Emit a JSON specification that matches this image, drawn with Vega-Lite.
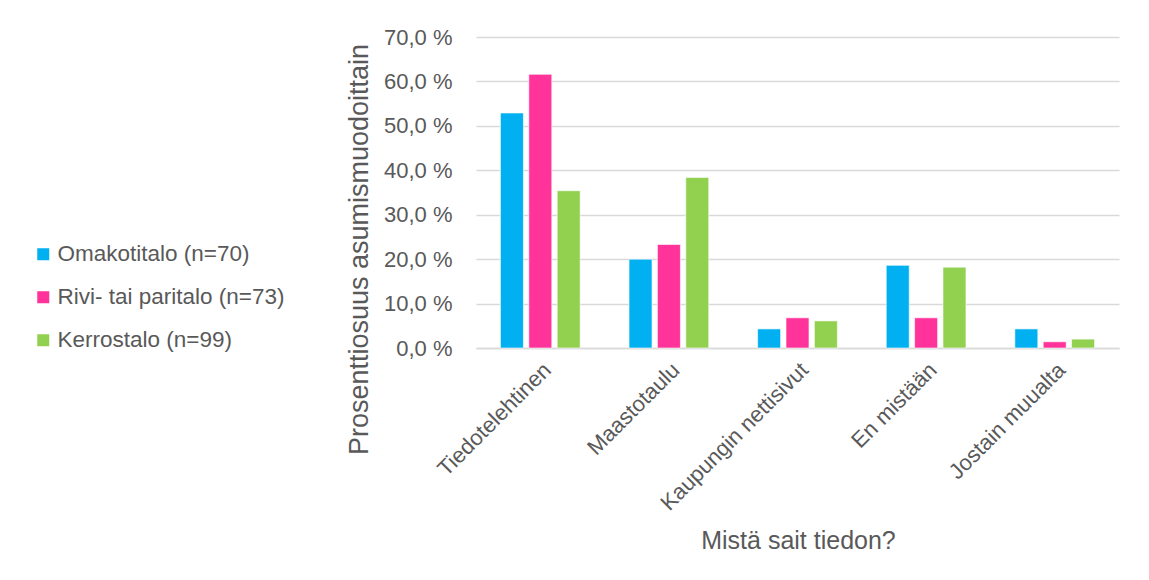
{
  "$schema": "https://vega.github.io/schema/vega-lite/v6.json",
  "width": 643,
  "height": 311,
  "autosize": {"type": "none"},
  "padding": {"left": 476, "top": 37, "right": 30, "bottom": 232},
  "background": "#ffffff",
  "config": {
    "font": "Liberation Sans",
    "view": {"stroke": null},
    "axis": {"labelColor": "#595959", "titleColor": "#595959", "titleFontWeight": "normal", "labelFont": "Liberation Sans", "titleFont": "Liberation Sans"},
    "legend": {"labelColor": "#595959", "labelFont": "Liberation Sans"}
  },
  "data": {
    "values": [
      {"source": "Tiedotelehtinen", "group": "Omakotitalo (n=70)", "pct": 52.9},
      {"source": "Tiedotelehtinen", "group": "Rivi- tai paritalo (n=73)", "pct": 61.6},
      {"source": "Tiedotelehtinen", "group": "Kerrostalo (n=99)", "pct": 35.4},
      {"source": "Maastotaulu", "group": "Omakotitalo (n=70)", "pct": 20.0},
      {"source": "Maastotaulu", "group": "Rivi- tai paritalo (n=73)", "pct": 23.3},
      {"source": "Maastotaulu", "group": "Kerrostalo (n=99)", "pct": 38.4},
      {"source": "Kaupungin nettisivut", "group": "Omakotitalo (n=70)", "pct": 4.3},
      {"source": "Kaupungin nettisivut", "group": "Rivi- tai paritalo (n=73)", "pct": 6.8},
      {"source": "Kaupungin nettisivut", "group": "Kerrostalo (n=99)", "pct": 6.1},
      {"source": "En mistään", "group": "Omakotitalo (n=70)", "pct": 18.6},
      {"source": "En mistään", "group": "Rivi- tai paritalo (n=73)", "pct": 6.8},
      {"source": "En mistään", "group": "Kerrostalo (n=99)", "pct": 18.2},
      {"source": "Jostain muualta", "group": "Omakotitalo (n=70)", "pct": 4.3},
      {"source": "Jostain muualta", "group": "Rivi- tai paritalo (n=73)", "pct": 1.4},
      {"source": "Jostain muualta", "group": "Kerrostalo (n=99)", "pct": 2.0}
    ]
  },
  "mark": {"type": "bar", "stroke": "#ffffff", "strokeOpacity": 0.6, "strokeWidth": 1},
  "encoding": {
    "x": {
      "field": "source",
      "type": "nominal",
      "sort": ["Tiedotelehtinen", "Maastotaulu", "Kaupungin nettisivut", "En mistään", "Jostain muualta"],
      "scale": {"paddingInner": 0.38, "paddingOuter": 0.19},
      "axis": {
        "title": "Mistä sait tiedon?",
        "titleFontSize": 25,
        "titleX": 322,
        "titleY": 200,
        "titleBaseline": "alphabetic",
        "labelAngle": -45,
        "labelAlign": "right",
        "labelBaseline": "top",
        "labelFontSize": 22,
        "labelPadding": 11,
        "labelLimit": 0,
        "ticks": false,
        "domain": true,
        "domainColor": "#d9d9d9",
        "domainWidth": 1.5,
        "grid": false
      }
    },
    "xOffset": {
      "field": "group",
      "type": "nominal",
      "sort": ["Omakotitalo (n=70)", "Rivi- tai paritalo (n=73)", "Kerrostalo (n=99)"],
      "scale": {"paddingInner": 0.19, "paddingOuter": 0}
    },
    "y": {
      "field": "pct",
      "type": "quantitative",
      "scale": {"domain": [0, 70], "nice": false},
      "axis": {
        "title": "Prosenttiosuus asumismuodoittain",
        "titleFontSize": 27,
        "titleX": -109,
        "titleY": 212,
        "titleAngle": -90,
        "titleBaseline": "alphabetic",
        "values": [0, 10, 20, 30, 40, 50, 60, 70],
        "labelExpr": "replace(format(datum.value, '.1f'), '.', ',') + ' %'",
        "labelFontSize": 22,
        "labelPadding": 24,
        "ticks": false,
        "domain": false,
        "grid": true,
        "gridColor": "#d9d9d9",
        "gridWidth": 1.5
      }
    },
    "color": {
      "field": "group",
      "type": "nominal",
      "sort": ["Omakotitalo (n=70)", "Rivi- tai paritalo (n=73)", "Kerrostalo (n=99)"],
      "scale": {
        "domain": ["Omakotitalo (n=70)", "Rivi- tai paritalo (n=73)", "Kerrostalo (n=99)"],
        "range": ["#00b0f0", "#ff3399", "#92d050"]
      },
      "legend": {
        "title": null,
        "orient": "none",
        "legendX": -444,
        "legendY": 206,
        "padding": 0,
        "symbolType": "square",
        "symbolSize": 144,
        "symbolStrokeWidth": 0,
        "labelFontSize": 22.5,
        "labelLimit": 0,
        "labelOffset": 3,
        "rowPadding": 20
      }
    }
  }
}
